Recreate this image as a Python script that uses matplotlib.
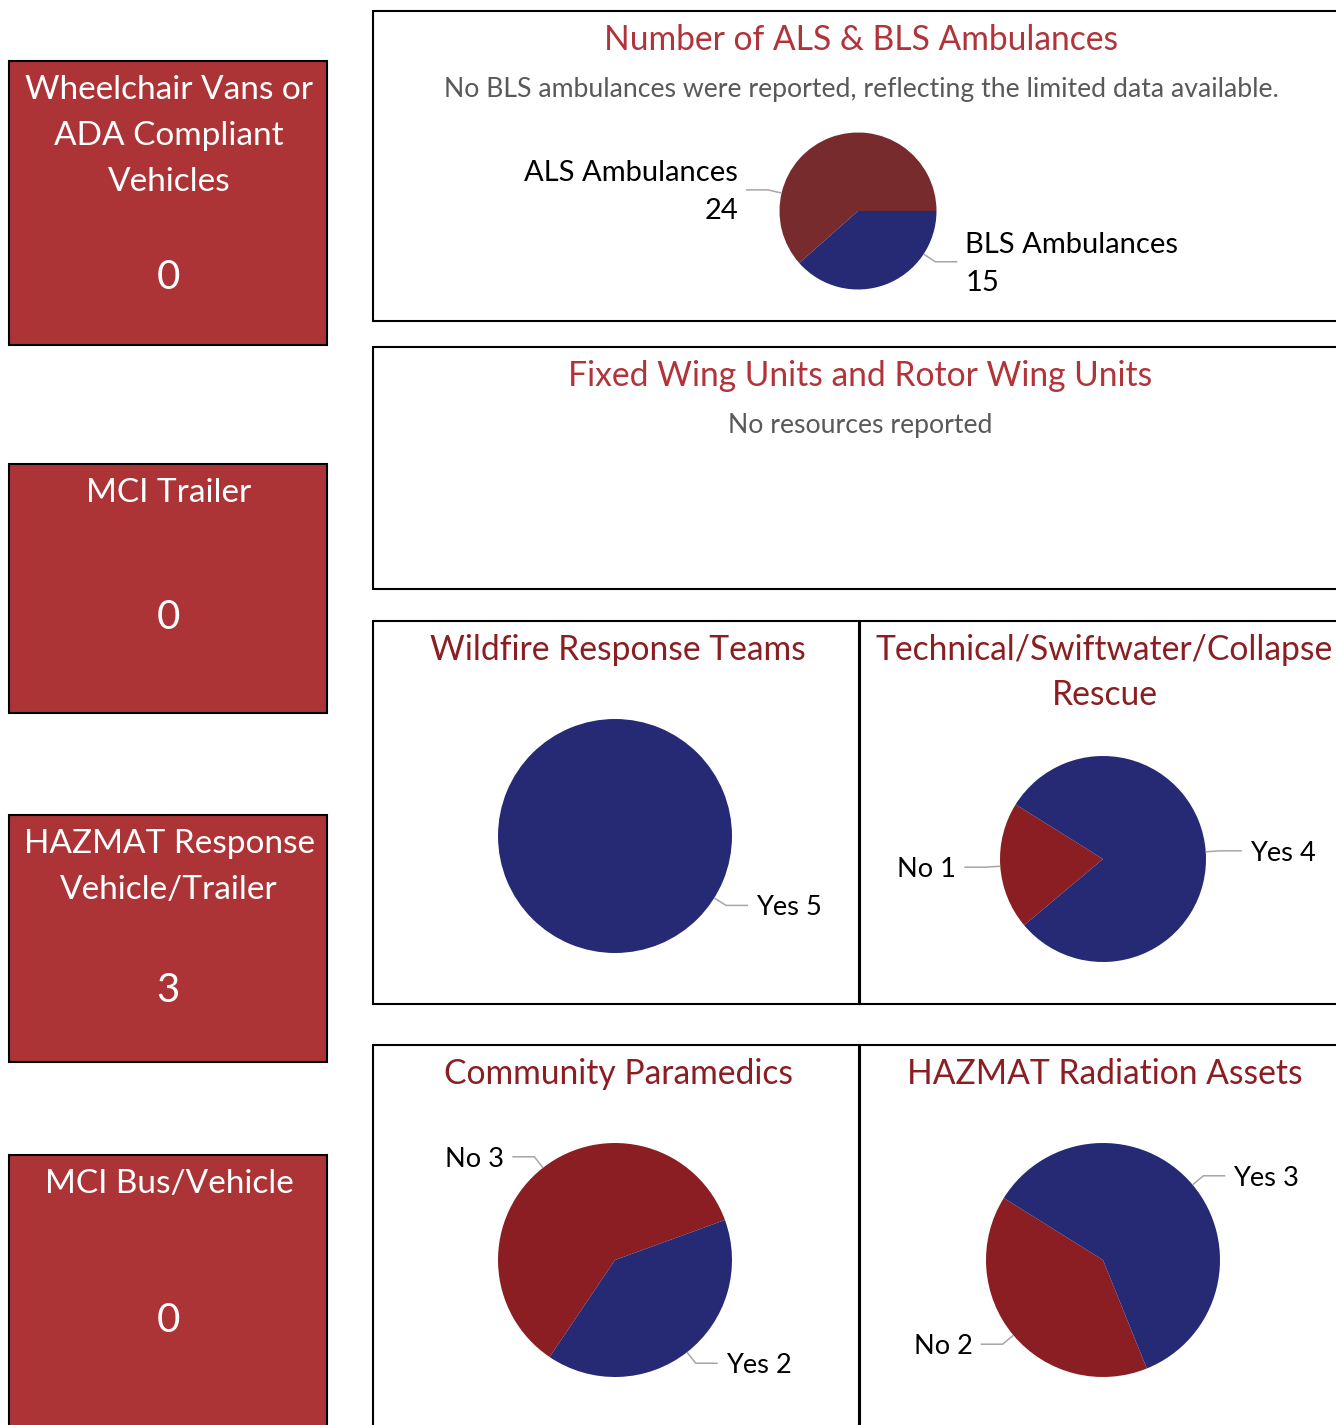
import numpy as np
import matplotlib
matplotlib.use('Agg')
import matplotlib.pyplot as plt
from matplotlib.patches import Rectangle

W, H = 1336, 1425

# KPI cards on the left
CARD_TITLES = [['Wheelchair Vans or', 'ADA Compliant', 'Vehicles'],
               ['MCI Trailer'],
               ['HAZMAT Response', 'Vehicle/Trailer'],
               ['MCI Bus/Vehicle']]
CARD_VALUES = [0, 0, 3, 0]

# pie data
AMB_LABELS = ['ALS Ambulances', 'BLS Ambulances']
AMB_VALUES = [24, 15]
WILDFIRE_LABELS = ['Yes']
WILDFIRE_VALUES = [5]
TECH_LABELS = ['No', 'Yes']
TECH_VALUES = [1, 4]
PARAMEDIC_LABELS = ['No', 'Yes']
PARAMEDIC_VALUES = [3, 2]
RADIATION_LABELS = ['No', 'Yes']
RADIATION_VALUES = [2, 3]

CARD_RED = '#AD3436'
TOP_TITLE = '#B0343A'
LOW_TITLE = '#8B1E22'
PIE_RED = '#8B1E22'
ALS_RED = '#772B2D'
NAVY = '#262A75'
GRAY = '#595959'
LEADER = '#A6A6A6'

plt.rcParams['font.family'] = ['Lato', 'DejaVu Sans']

fig = plt.figure(figsize=(W / 100, H / 100), dpi=100)
ax = fig.add_axes([0, 0, 1, 1])


def Y(y):
    # layout is measured top-down in pixels
    return H - y


def box(x0, y0, x1, y1, fc='white', lw=1.5):
    ax.add_patch(Rectangle((x0, Y(y1)), x1 - x0, y1 - y0, facecolor=fc,
                           edgecolor='black', lw=lw, zorder=1))


def text(x, y, s, size, color='black', ha='center', **kw):
    ax.text(x, Y(y), s, fontsize=size, color=color, ha=ha,
            va='center_baseline', zorder=5, **kw)


# ---- KPI cards ----
card_boxes = [(61, 345), (464, 713), (815, 1062), (1155, 1428)]
for (top, bot), lines, val in zip(card_boxes, CARD_TITLES, CARD_VALUES):
    box(9, top, 327, bot, fc=CARD_RED)
    for i, ln in enumerate(lines):
        text(169, top + 26 + 46 * i, ln, 24, color='white')
    last = top + 26 + 46 * (len(lines) - 1)
    text(168, (last + bot) / 2 + 12, str(val), 29, color='white')

# ---- chart panels ----
box(373, 11, 1349, 321)
box(373, 347, 1349, 589)
box(373, 621, 859, 1004)
box(860, 621, 1349, 1004)
box(373, 1045, 859, 1440)
box(860, 1045, 1349, 1440)

TS = 24.2
text(861, 37, 'Number of ALS & BLS Ambulances', TS, TOP_TITLE)
text(861, 87, 'No BLS ambulances were reported, reflecting the limited data available.',
     19.2, GRAY)
text(860, 373, 'Fixed Wing Units and Rotor Wing Units', TS, TOP_TITLE)
text(860, 423, 'No resources reported', 19.2, GRAY)
text(618, 647, 'Wildfire Response Teams', TS, LOW_TITLE)
text(1104, 647, 'Technical/Swiftwater/Collapse', TS, LOW_TITLE)
text(1105, 692, 'Rescue', TS, LOW_TITLE)
text(618, 1071, 'Community Paramedics', TS, LOW_TITLE)
text(1105, 1071, 'HAZMAT Radiation Assets', TS, LOW_TITLE)


def draw_pie(cx, cy, r, values, labels, colors, start, angles=None,
             two_line=False, fs=19.6):
    wedges, _ = ax.pie(values, colors=colors, startangle=start, counterclock=True,
                       center=(cx, Y(cy)), radius=r, frame=True,
                       wedgeprops=dict(linewidth=0))
    for i, (w, lab, v) in enumerate(zip(wedges, labels, values)):
        phi = (w.theta1 + w.theta2) / 2 if angles is None else angles[i]
        u = np.array([np.cos(np.radians(phi)), np.sin(np.radians(phi))])
        p0 = np.array([cx, Y(cy)]) + r * u
        p1 = p0 + 14 * u
        side = 1 if u[0] >= 0 else -1
        p2 = p1 + np.array([22 * side, 0])
        ax.plot([p0[0], p1[0], p2[0]], [p0[1], p1[1], p2[1]], color=LEADER,
                lw=1.1, zorder=4, solid_capstyle='butt')
        ha = 'left' if side > 0 else 'right'
        tx = p2[0] + 8 * side
        if two_line:
            ax.text(tx, p2[1] + 19, lab, fontsize=fs, ha=ha, va='center_baseline', zorder=5)
            ax.text(tx, p2[1] - 19, str(v), fontsize=fs, ha=ha, va='center_baseline', zorder=5)
        else:
            ax.text(tx, p2[1], f'{lab} {v}', fontsize=fs, ha=ha,
                    va='center_baseline', zorder=5)


draw_pie(858, 211, 78.5, AMB_VALUES, AMB_LABELS, [ALS_RED, NAVY], 0,
         angles=[166.8, -33.3], two_line=True, fs=21)
draw_pie(615, 836, 117, WILDFIRE_VALUES, WILDFIRE_LABELS, [NAVY], 148)
draw_pie(1103, 859, 103, TECH_VALUES, TECH_LABELS, [PIE_RED, NAVY], 148)
draw_pie(615, 1260, 117, PARAMEDIC_VALUES, PARAMEDIC_LABELS, [PIE_RED, NAVY], 20)
draw_pie(1103, 1260, 117, RADIATION_VALUES, RADIATION_LABELS, [PIE_RED, NAVY], 148)

ax.set_xlim(0, W)
ax.set_ylim(0, H)
ax.set_axis_off()

fig.savefig('out.png', dpi=100)
plt.close(fig)
